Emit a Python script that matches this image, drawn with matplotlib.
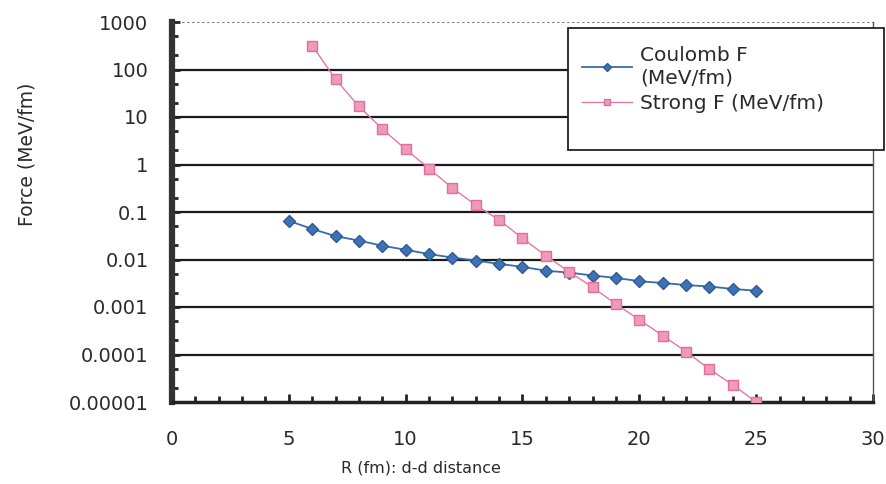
import numpy as np
import matplotlib
matplotlib.use("Agg")
import matplotlib.pyplot as plt
from matplotlib.patches import Rectangle
from matplotlib.ticker import FixedLocator, LogLocator, NullFormatter, MultipleLocator

# valeurs
r_coulomb = [5, 6, 7, 8, 9, 10, 11, 12, 13, 14, 15, 16, 17, 18, 19, 20, 21, 22, 23, 24, 25]
f_coulomb = [0.065, 0.044, 0.031, 0.025, 0.0195, 0.016, 0.013, 0.011, 0.0095, 0.0081,
             0.0070, 0.0058, 0.0053, 0.0046, 0.0041, 0.0035, 0.0032, 0.0029, 0.0027,
             0.0024, 0.0022]
r_strong = [6, 7, 8, 9, 10, 11, 12, 13, 14, 15, 16, 17, 18, 19, 20, 21, 22, 23, 24, 25]
f_strong = [320, 62, 16.8, 5.6, 2.1, 0.82, 0.32, 0.14, 0.068, 0.028, 0.012, 0.0055,
            0.0026, 0.00115, 0.00054, 0.00025, 0.000115, 0.000049, 0.000023, 0.00001]

y_ticks = [1e-5, 1e-4, 1e-3, 1e-2, 1e-1, 1, 10, 100, 1000]
y_labels = ["0.00001", "0.0001", "0.001", "0.01", "0.1", "1", "10", "100", "1000"]

plt.rcParams['font.family'] = ['DejaVu Sans']
W, H = 887, 484

fig = plt.figure(figsize=(8.87, 4.84), dpi=100)
ax = fig.add_axes([172 / W, 1 - 402 / H, 701 / W, 380 / H])

# grille horizontale noire
for v in y_ticks[1:-1]:
    ax.axhline(v, color="#1a1a1a", lw=1.6, zorder=1)
ax.axhline(1000, color="#666666", lw=1.2, ls=(0, (1.5, 1.5)), zorder=1)

l1, = ax.plot(r_coulomb, f_coulomb, color="#3a6aa8", lw=1.3, marker="D", ms=6,
              mfc="#3f72b5", mec="#2f5a95", zorder=3)
l2, = ax.plot(r_strong, f_strong, color="#e07aa0", lw=1.0, marker="s", ms=6.5,
              mfc="#f09abb", mec="#e06f9a", zorder=3)

ax.set_yscale("log")
ax.set_ylim(1e-5, 1000)
ax.set_xlim(0, 30)
ax.yaxis.set_major_locator(FixedLocator(y_ticks))
ax.set_yticklabels(y_labels)
ax.yaxis.set_minor_locator(LogLocator(base=10, subs=[2, 5]))
ax.yaxis.set_minor_formatter(NullFormatter())
ax.xaxis.set_major_locator(MultipleLocator(5))
ax.xaxis.set_minor_locator(MultipleLocator(1))

ax.tick_params(axis="both", which="both", direction="in", width=2.0, color="#222222")
ax.tick_params(axis="both", which="major", length=6, labelsize=14, labelcolor="#2a2a2a")
ax.tick_params(axis="both", which="minor", length=4)
ax.tick_params(axis="y", which="major", pad=17)
ax.tick_params(axis="x", which="major", pad=20)

ax.spines["left"].set_linewidth(4.5)
ax.spines["left"].set_color("#333333")
ax.spines["bottom"].set_linewidth(2.5)
ax.spines["bottom"].set_color("#222222")
ax.spines["right"].set_linewidth(1.0)
ax.spines["right"].set_color("#555555")
ax.spines["top"].set_visible(False)

fig.text(421 / W, 1 - 468 / H, "R (fm): d-d distance", fontsize=11.5,
         ha="center", va="center", color="#2a2a2a")
fig.text(27 / W, 1 - 154 / H, "Force (MeV/fm)", fontsize=13.5, rotation=90,
         ha="center", va="center", color="#2a2a2a")

# cadre de la légende
fig.patches.append(Rectangle((568 / W, 1 - 150 / H), 316 / W, 122 / H,
                             transform=fig.transFigure, facecolor="white",
                             edgecolor="#222222", lw=1.3, zorder=5))
leg = fig.legend([l1, l2], ["Coulomb F\n(MeV/fm)", "Strong F (MeV/fm)"],
                 loc="upper left", bbox_to_anchor=(572 / W, 1 - 36 / H),
                 fontsize=14.5, frameon=False, borderpad=0, handlelength=2.5,
                 handletextpad=0.4, labelspacing=0.35, markerscale=0.7)
leg.set_zorder(6)
for t in leg.get_texts():
    t.set_color("#2a2a2a")

fig.savefig("out.png", dpi=100)
